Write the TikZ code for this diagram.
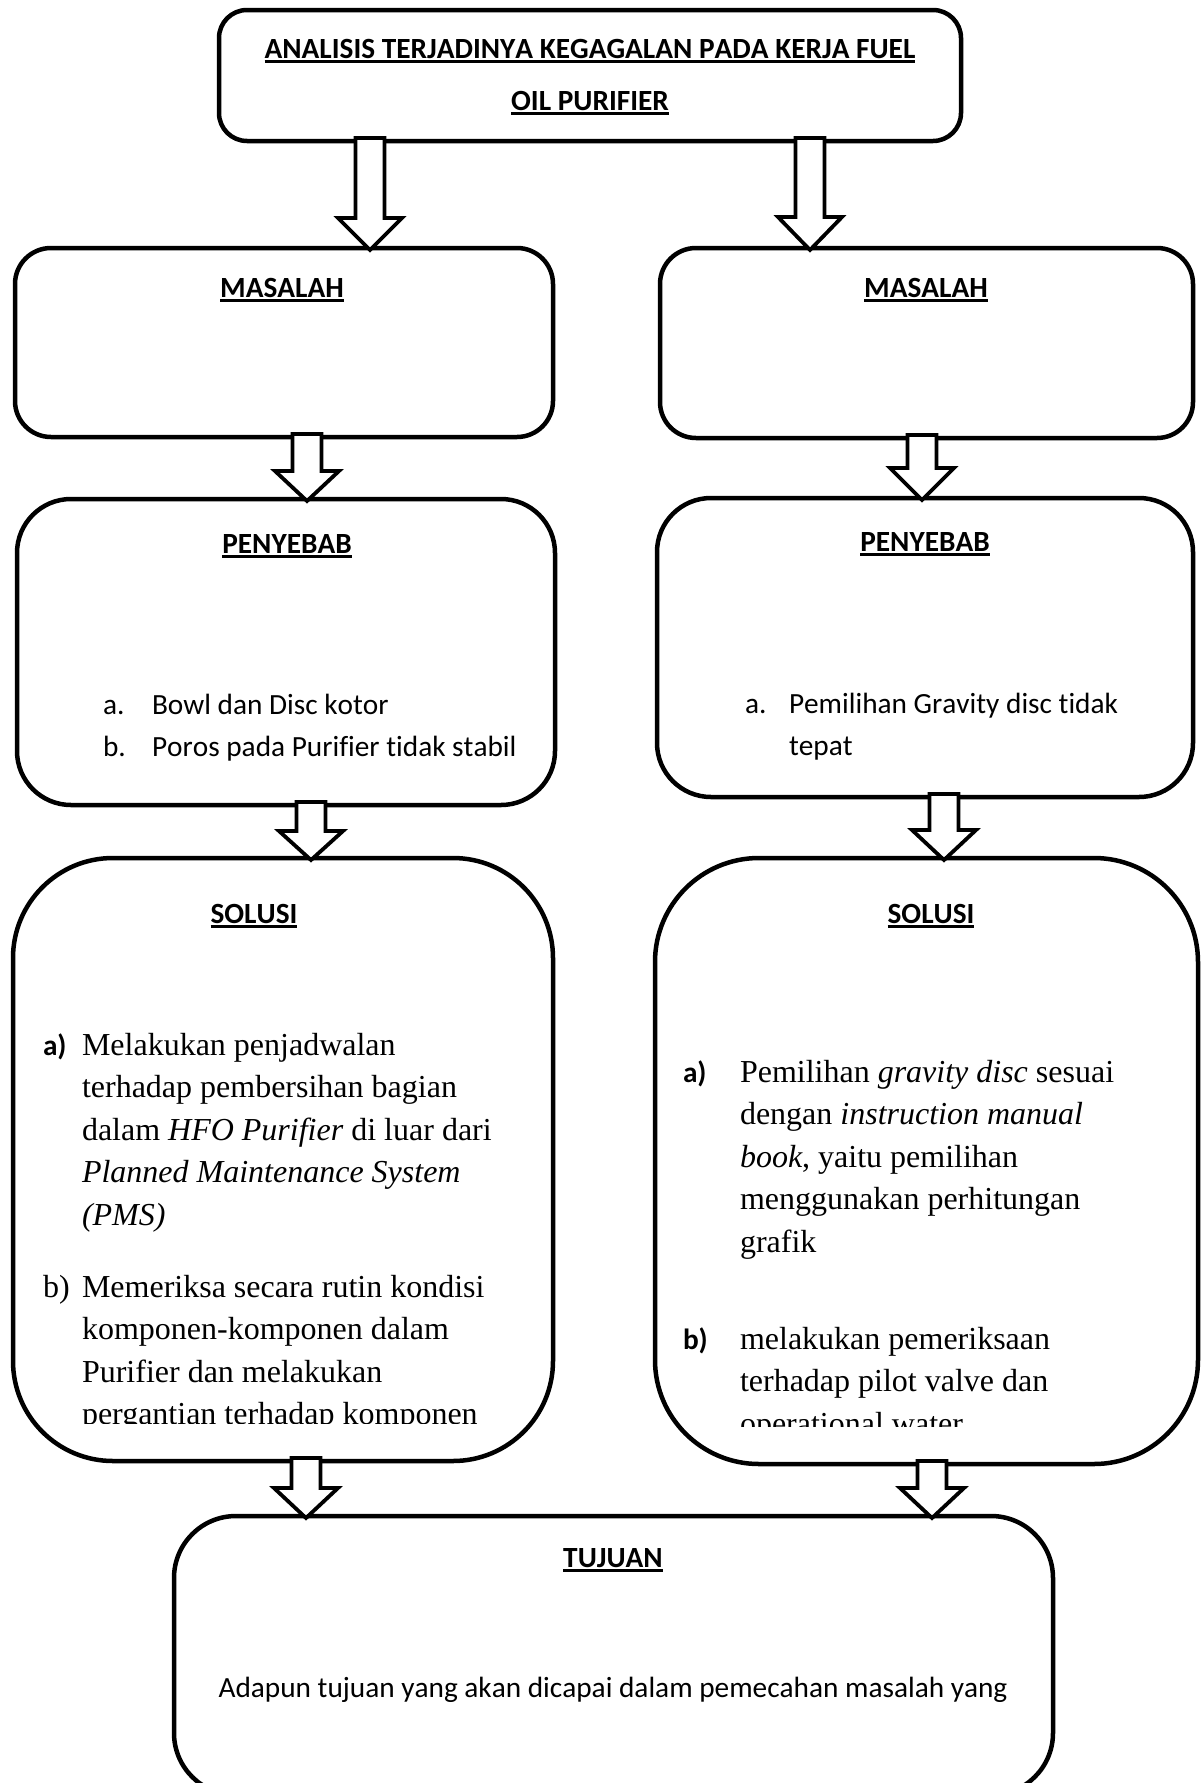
\documentclass[tikz,border=0pt]{standalone}
\usepackage{fontspec}
\setmainfont{Carlito}[Ligatures={NoCommon}, Kerning=Off]
\newfontfamily\tnr{Liberation Serif}
\usetikzlibrary{calc}

\newcommand\ulin[1]{\setbox0\hbox{#1}\rlap{\rule[-4.5pt]{\wd0}{2.4pt}}\box0}

\tikzset{
  box/.style={draw, line width=4.5pt, inner sep=0pt, outer sep=0pt, fill=white},
  cal/.style={font=\fontsize{29.3}{35}\selectfont, inner sep=0pt, outer sep=0pt},
  hd/.style={font=\fontsize{29.3}{35}\selectfont\bfseries, inner sep=0pt, outer sep=0pt, anchor=base},
  lbl/.style={font=\fontsize{29.3}{35}\selectfont\bfseries, inner sep=0pt, outer sep=0pt, anchor=base west},
  tms/.style={font=\tnr\fontsize{32}{42.5}\selectfont, inner sep=0pt, outer sep=0pt, anchor=base west},
  barrow/.style={draw, line width=3.8pt, fill=white, line join=miter},
}

\newcommand\blockarrow[4]{%
  \draw[barrow] let \p1=(#1.south), \p2=(#2.north) in
    ({#3pt-14.5pt},{\y1+3pt}) -- ({#3pt-14.5pt},{\y2+#4pt}) --
    ({#3pt-32pt},{\y2+#4pt}) -- ({#3pt},{\y2-2pt}) --
    ({#3pt+32pt},{\y2+#4pt}) -- ({#3pt+14.5pt},{\y2+#4pt}) --
    ({#3pt+14.5pt},{\y1+3pt}) -- cycle;}

\begin{document}
\begin{tikzpicture}[x=1pt, y=-1pt]
\useasboundingbox (0,0) rectangle (1202,1783);

% boxes
\node[box, rounded corners=28pt, minimum width=742pt, minimum height=131pt] (top) at (590,75.5) {};
\node[box, rounded corners=36pt, minimum width=538pt, minimum height=189pt] (masL) at (284,342.5) {};
\node[box, rounded corners=36pt, minimum width=533pt, minimum height=190pt] (masR) at (926.5,343) {};
\node[box, rounded corners=54pt, minimum width=538pt, minimum height=306pt] (penL) at (286,652) {};
\node[box, rounded corners=54pt, minimum width=536pt, minimum height=299pt] (penR) at (925,647.5) {};
\node[box, rounded corners=100pt, minimum width=540pt, minimum height=603pt] (solL) at (283,1159.5) {};
\node[box, rounded corners=104pt, minimum width=543pt, minimum height=606pt] (solR) at (926.5,1161) {};
\node[box, rounded corners=62pt, minimum width=879pt, minimum height=279pt] (tuj) at (613.5,1655.5) {};

% block arrows
\blockarrow{top}{masL}{370}{30}
\blockarrow{top}{masR}{810}{31}
\blockarrow{masL}{penL}{307}{28}
\blockarrow{masR}{penR}{922}{30}
\blockarrow{penL}{solL}{311}{27}
\blockarrow{penR}{solR}{944}{28}
\blockarrow{solL}{tuj}{306}{28}
\blockarrow{solR}{tuj}{932}{28}

% headings
\node[hd] (t1) at (590,58) {\ulin{ANALISIS TERJADINYA KEGAGALAN PADA KERJA FUEL}};
\node[hd] (t2) at (590,110) {\ulin{OIL PURIFIER}};
\node[hd] (hmL) at (282,297) {\ulin{MASALAH}};
\node[hd] (hmR) at (926,297) {\ulin{MASALAH}};
\node[hd] (hpL) at (287,553) {\ulin{PENYEBAB}};
\node[hd] (hpR) at (925,551) {\ulin{PENYEBAB}};
\node[hd] (hsL) at (254,923) {\ulin{SOLUSI}};
\node[hd] (hsR) at (931,923) {\ulin{SOLUSI}};
\node[hd] (htj) at (613,1567) {\ulin{TUJUAN}};

% penyebab items
\node[cal, anchor=base west] (plA) at (103,714) {a.};
\node[cal, anchor=base west] (plA1) at (152,714) {Bowl dan Disc kotor};
\node[cal, anchor=base west] (plB) at (103,756) {b.};
\node[cal, anchor=base west] (plB1) at (152,756) {Poros pada Purifier tidak stabil};
\node[cal, anchor=base west] (prA) at (745,713) {a.};
\node[cal, anchor=base west] (prA1) at (789,713) {Pemilihan Gravity disc tidak};
\node[cal, anchor=base west] (prA2) at (789,755) {tepat};

% solusi left
\begin{scope}
\clip (0,0) rectangle (1202,1423);
\node[lbl] (slA) at (43,1055) {a)};
\foreach \t [count=\i] in {{Melakukan penjadwalan},{terhadap pembersihan bagian},{dalam \textit{HFO Purifier} di luar dari},{\textit{Planned Maintenance System}},{\textit{(PMS)}}}
  \node[tms] (slA\i) at (82,{1055+42.5*(\i-1)}) {\t};
\node[tms] (slB) at (43,1297) {b)};
\foreach \t [count=\i] in {{Memeriksa secara rutin kondisi},{komponen-komponen dalam},{Purifier dan melakukan},{pergantian terhadap komponen}}
  \node[tms] (slB\i) at (82,{1297+42.5*(\i-1)}) {\t};
\end{scope}

% solusi right
\begin{scope}
\clip (0,0) rectangle (1202,1426);
\node[lbl] (srA) at (683,1082) {a)};
\foreach \t [count=\i] in {{Pemilihan \textit{gravity disc} sesuai},{dengan \textit{instruction manual}},{\textit{book}, yaitu pemilihan},{menggunakan perhitungan},{grafik}}
  \node[tms] (srA\i) at (740,{1082+42.5*(\i-1)}) {\t};
\node[lbl] (srB) at (683,1349) {b)};
\foreach \t [count=\i] in {{melakukan pemeriksaan},{terhadap pilot valve dan},{operational water}}
  \node[tms] (srB\i) at (740,{1349+42.5*(\i-1)}) {\t};
\end{scope}

% tujuan text
\node[cal, anchor=base] (tjt) at (613,1697) {Adapun tujuan yang akan dicapai dalam pemecahan masalah yang};
\end{tikzpicture}
\end{document}
